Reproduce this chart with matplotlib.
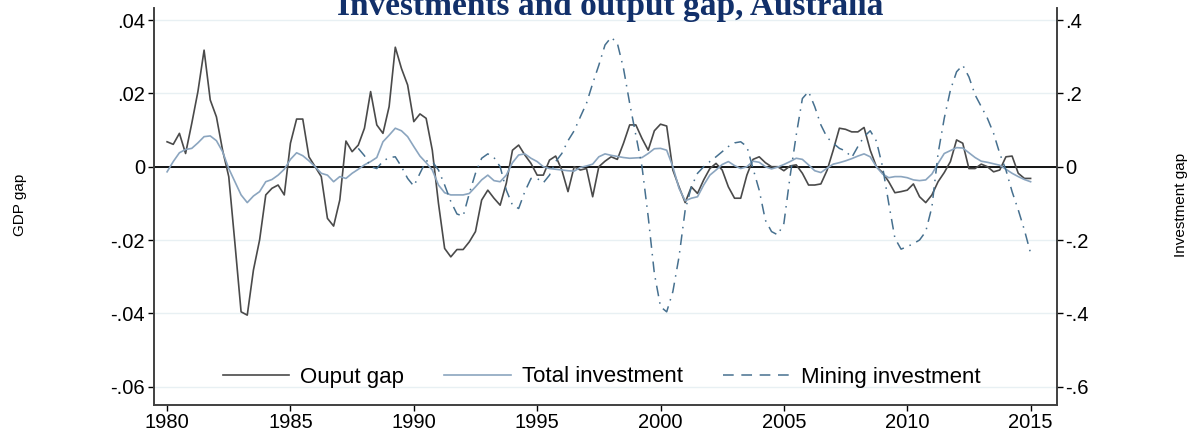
import numpy as np
import matplotlib
matplotlib.use("Agg")
import matplotlib.pyplot as plt
from matplotlib.lines import Line2D

# quarterly, 1980Q1 .. 2015Q1
start_year = 1980.0
output_gap = [
    .0068, .0061, .0091, .0036, .0118, .0205, .0318, .0182, .0136, .0045,
    -.0027, -.0209, -.0396, -.0405, -.0282, -.0200, -.0077, -.0059, -.0050, -.0077,
    .0064, .0130, .0130, .0027, .0000, -.0027, -.0141, -.0162, -.0091, .0070,
    .0041, .0059, .0105, .0205, .0114, .0091, .0164, .0326, .0268, .0223,
    .0123, .0144, .0132, .0045, -.0100, -.0223, -.0246, -.0226, -.0226, -.0205,
    -.0177, -.0091, -.0064, -.0086, -.0105, -.0045, .0045, .0059, .0032, .0009,
    -.0023, -.0023, .0018, .0029, -.0009, -.0068, .0000, -.0009, -.0005, -.0082,
    .0000, .0015, .0027, .0020, .0064, .0114, .0114, .0077, .0045, .0098,
    .0116, .0111, -.0009, -.0055, -.0098, -.0055, -.0073, -.0036, -.0005, .0009,
    -.0009, -.0055, -.0086, -.0086, -.0023, .0020, .0027, .0011, .0000, .0000,
    -.0011, .0002, .0005, -.0018, -.0050, -.0050, -.0047, -.0010, .0045, .0105,
    .0102, .0095, .0095, .0107, .0045, .0000, -.0016, -.0041, -.0071, -.0068,
    -.0064, -.0047, -.0082, -.0098, -.0077, -.0041, -.0016, .0014, .0073, .0064,
    -.0005, -.0005, .0007, .0000, -.0014, -.0009, .0027, .0029, -.0018, -.0032,
    -.0032,
]
total_investment = [
    -.014, .014, .038, .047, .050, .065, .082, .084, .071, .041,
    -.005, -.041, -.077, -.098, -.080, -.068, -.041, -.035, -.023, -.007,
    .020, .038, .030, .016, .000, -.018, -.023, -.041, -.027, -.032,
    -.018, -.007, .005, .014, .025, .068, .086, .105, .098, .082,
    .055, .029, .011, -.009, -.050, -.071, -.077, -.077, -.077, -.073,
    -.055, -.036, -.023, -.038, -.041, -.023, .011, .032, .035, .023,
    .014, .000, -.005, -.007, -.009, -.011, -.012, -.002, .002, .007,
    .027, .035, .031, .028, .025, .023, .024, .025, .036, .049,
    .050, .045, .000, -.059, -.093, -.086, -.082, -.050, -.023, -.009,
    .006, .014, .003, -.005, .000, .015, .012, .000, -.006, -.001,
    .006, .014, .023, .020, .005, -.011, -.016, -.004, .007, .011,
    .016, .022, .029, .035, .027, .000, -.020, -.030, -.027, -.027,
    -.030, -.036, -.038, -.036, -.020, .009, .036, .044, .052, .051,
    .038, .025, .015, .012, .008, .004, -.007, -.018, -.027, -.035,
    -.041,
]
mining_start_index = 31  # 1987Q4
mining_investment = [
    .050, .030, .000, -.005, .015, .025, .027, .000, -.032,
    -.053, -.018, .016, .014, -.009, -.050, -.095, -.129, -.135, -.073,
    -.018, .023, .035, .025, .000, -.064, -.105, -.114, -.068, -.032,
    -.032, -.044, -.023, .014, .036, .071, .098, .136, .173, .227,
    .277, .332, .353, .337, .268, .173, .086, .000, -.136, -.291,
    -.382, -.396, -.341, -.246, -.118, -.055, -.018, .000, .014, .027,
    .041, .055, .065, .068, .055, -.005, -.064, -.146, -.177, -.186,
    -.155, -.027, .086, .186, .205, .164, .114, .080, .064, .050,
    .043, .025, .055, .082, .098, .070, .000, -.100, -.195, -.225,
    -.218, -.210, -.200, -.177, -.110, .036, .132, .209, .259, .277,
    .245, .196, .164, .132, .091, .036, -.009, -.068, -.118, -.173,
    -.236,
]

left_ticks = [.04, .02, 0, -.02, -.04, -.06]
left_ticklabels = [".04", ".02", "0", "-.02", "-.04", "-.06"]
right_ticks = [.4, .2, 0, -.2, -.4, -.6]
right_ticklabels = [".4", ".2", "0", "-.2", "-.4", "-.6"]
x_ticks = [1980, 1985, 1990, 1995, 2000, 2005, 2010, 2015]

labels = ["Ouput gap", "Total investment", "Mining investment"]
title = "Investments and output gap, Australia"

c_out = "#4a4a4a"
c_tot = "#8ba5bf"
c_min = "#46708f"

plt.rcParams['font.family'] = ['Liberation Sans', 'DejaVu Sans']

fig = plt.figure(figsize=(11.96, 4.37), dpi=100)
bottom_px = 405.0
top_px = 8.0
ax = fig.add_axes([154/1196, 1-bottom_px/437, (1056.5-154)/1196, (bottom_px-top_px)/437])
ax2 = ax.twinx()

q = np.arange(len(output_gap)) / 4.0 + start_year
qm = (np.arange(len(mining_investment)) + mining_start_index) / 4.0 + start_year

# 73.3 px per .02, zero at y=166.7 px
ppu = 73.3 / 0.02
ax.set_xlim(1979.47, 2016.05)
ax.set_ylim(-(bottom_px - 166.7) / ppu, (166.7 - top_px) / ppu)
ax2.set_ylim(10 * ax.get_ylim()[0], 10 * ax.get_ylim()[1])

for t in left_ticks:
    ax.axhline(t, color="#e8f0f3", lw=1.0, zorder=0)
ax.axhline(0, color="black", lw=1.3, zorder=1)

l1, = ax.plot(q, output_gap, color=c_out, lw=1.2, zorder=3)
l2, = ax2.plot(q, total_investment, color=c_tot, lw=1.2, zorder=3)
l3, = ax2.plot(qm, mining_investment, color=c_min, lw=1.1,
               linestyle=(0, (7, 4, 1, 4)), zorder=3)
l3_leg = Line2D([], [], color=c_min, lw=1.1, linestyle=(0, (7, 5)))

ax.set_yticks(left_ticks)
ax.set_yticklabels(left_ticklabels)
ax2.set_yticks(right_ticks)
ax2.set_yticklabels(right_ticklabels)
ax.set_xticks(x_ticks)
ax.set_xticklabels([str(x) for x in x_ticks])

for a in (ax, ax2):
    a.tick_params(direction="out", length=4, width=1.0, labelsize=14.5, colors="black", pad=2.5)
    a.spines["top"].set_visible(False)
    for s in ("left", "right", "bottom"):
        a.spines[s].set_color("#404040")
        a.spines[s].set_linewidth(1.2)
ax.tick_params(axis="x", pad=2)

fig.text(20/1196, 1-205/437, "GDP gap", rotation=90, ha="center", va="center", fontsize=11)
fig.text(1181/1196, 1-205/437, "Investment gap", rotation=90, ha="center", va="center", fontsize=11)

fig.text(610.5/1196, 1-15/437, title, ha="center", va="baseline", fontsize=24,
         fontweight="bold", family="Liberation Serif", color="#12306a")

leg = ax2.legend([l1, l2, l3_leg], labels, loc="center",
                 bbox_to_anchor=(0.496, (bottom_px - 377) / (bottom_px - top_px)),
                 ncol=3, frameon=False, fontsize=16, handlelength=3.0,
                 handletextpad=0.5, columnspacing=1.8)

fig.savefig("out.png", dpi=100)
